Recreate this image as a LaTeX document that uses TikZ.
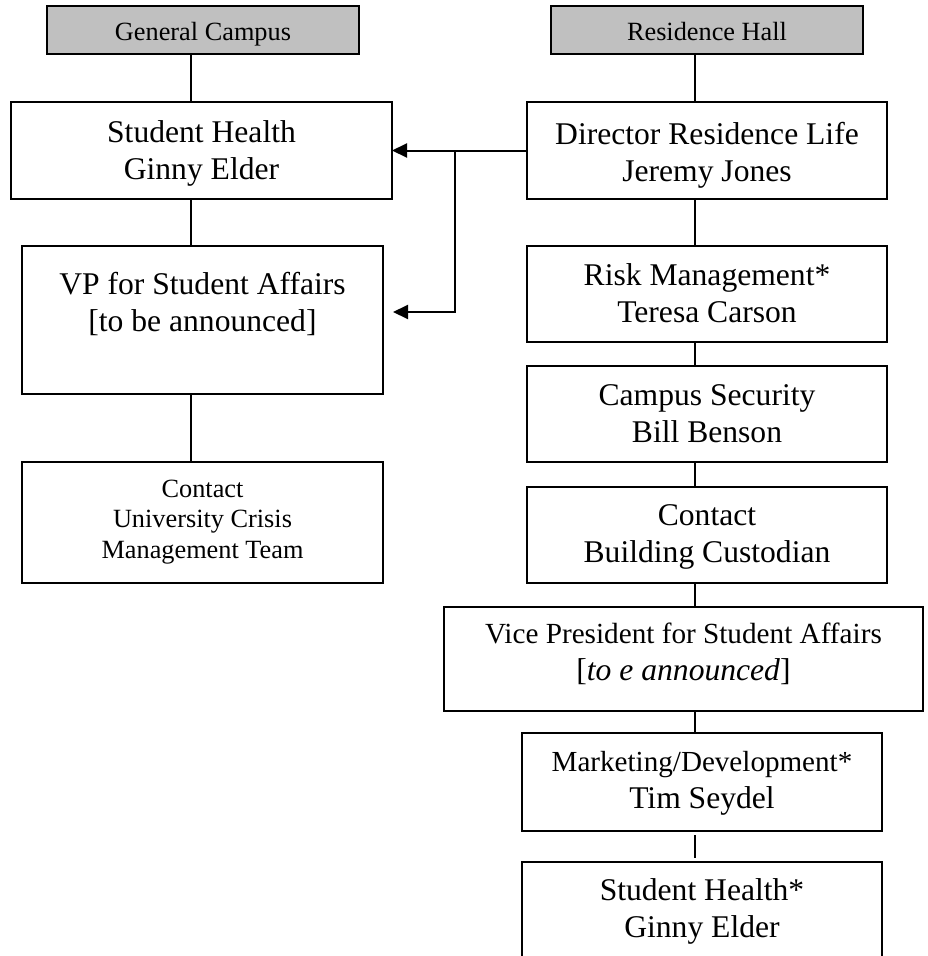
\documentclass[tikz,border=0pt]{standalone}
\usepackage{fontspec}
\setmainfont{Liberation Serif}
\usetikzlibrary{arrows.meta,calc}
\definecolor{hdrgray}{RGB}{192,192,192}
\tikzset{
  box/.style={draw, line width=2pt, inner sep=0pt, outer sep=0pt, rectangle},
  hdr/.style={box, fill=hdrgray},
  lbl/.style={anchor=base, inner sep=0pt, outer sep=0pt, font=\fontsize{31.6}{37}\selectfont},
  small/.style={font=\fontsize{26.3}{30.5}\selectfont},
  link/.style={line width=2pt},
  arr/.style={line width=2pt, -{Triangle[length=15pt,width=14pt]}}
}
\begin{document}
\begin{tikzpicture}[x=1pt,y=-1pt]
\fill[white] (0,0) rectangle (928,956);
\clip (0,0) rectangle (928,956);
\useasboundingbox (0,0) rectangle (928,956);

\coordinate (lx) at (191,0);
\coordinate (rx) at (695,0);

% left column boxes
\node[hdr, minimum width=312pt, minimum height=48pt] (gc) at (203,30) {};
\node[box, minimum width=381pt, minimum height=97pt] (shl) at (201.5,150.5) {};
\node[box, minimum width=361pt, minimum height=148pt] (vpl) at (202.5,320) {};
\node[box, minimum width=361pt, minimum height=121pt] (cl) at (202.5,522.5) {};

% right column boxes
\node[hdr, minimum width=312pt, minimum height=48pt] (rh) at (707,30) {};
\node[box, minimum width=360pt, minimum height=97pt] (dir) at (707,150.5) {};
\node[box, minimum width=360pt, minimum height=96pt] (risk) at (707,294) {};
\node[box, minimum width=360pt, minimum height=96pt] (sec) at (707,414) {};
\node[box, minimum width=360pt, minimum height=96pt] (cr) at (707,535) {};
\node[box, minimum width=479pt, minimum height=104pt] (vpr) at (683.5,659) {};
\node[box, minimum width=360pt, minimum height=98pt] (mkt) at (702,782) {};
\node[box, minimum width=360pt, minimum height=98pt] (shr) at (702,911) {};

% labels
\node[lbl, small] (gct) at (203,40.7) {General Campus};
\node[lbl, small] (rht) at (707,40.7) {Residence Hall};
\node[lbl] (shlt) at (201.5,142) {\begin{tabular}[t]{@{}c@{}}Student Health\\Ginny Elder\end{tabular}};
\node[lbl] (vplt) at (202.5,294) {\begin{tabular}[t]{@{}c@{}}VP for Student Affairs\\{}[to be announced]\end{tabular}};
\node[lbl, small] (clt) at (202.5,497) {\begin{tabular}[t]{@{}c@{}}Contact\\University Crisis\\Management Team\end{tabular}};
\node[lbl] (dirt) at (707,144) {\begin{tabular}[t]{@{}c@{}}Director Residence Life\\Jeremy Jones\end{tabular}};
\node[lbl] (riskt) at (707,285) {\begin{tabular}[t]{@{}c@{}}Risk Management*\\Teresa Carson\end{tabular}};
\node[lbl] (sect) at (707,405) {\begin{tabular}[t]{@{}c@{}}Campus Security\\Bill Benson\end{tabular}};
\node[lbl] (crt) at (707,525) {\begin{tabular}[t]{@{}c@{}}Contact\\Building Custodian\end{tabular}};
\node[lbl] (vprt) at (683.5,643) {\begin{tabular}[t]{@{}c@{}}{\fontsize{29.2}{37}\selectfont Vice President for Student Affairs}\\{}[\textit{to e announced}]\end{tabular}};
\node[lbl] (mktt) at (702,771) {\begin{tabular}[t]{@{}c@{}}{\fontsize{29.1}{37}\selectfont Marketing/Development*}\\Tim Seydel\end{tabular}};
\node[lbl] (shrt) at (702,900) {\begin{tabular}[t]{@{}c@{}}Student Health*\\Ginny Elder\end{tabular}};

% left connectors
\draw[link] (gc.south -| lx) -- (shl.north -| lx);
\draw[link] (shl.south -| lx) -- (vpl.north -| lx);
\draw[link] (vpl.south -| lx) -- (cl.north -| lx);

% right connectors
\draw[link] (rh.south -| rx) -- (dir.north -| rx);
\draw[link] (dir.south -| rx) -- (risk.north -| rx);
\draw[link] (risk.south -| rx) -- (sec.north -| rx);
\draw[link] (sec.south -| rx) -- (cr.north -| rx);
\draw[link] (cr.south -| rx) -- (vpr.north -| rx);
\draw[link] (vpr.south -| rx) -- (mkt.north -| rx);
\draw[link, shorten <=4pt, shorten >=4pt] (mkt.south -| rx) -- (shr.north -| rx);

% arrows
\coordinate (jn) at (455,150.5);
\coordinate (t2) at (393,312);
\draw[arr] (dir.west) -- (shl.east);
\draw[arr] (jn) |- (t2);
\end{tikzpicture}
\end{document}
